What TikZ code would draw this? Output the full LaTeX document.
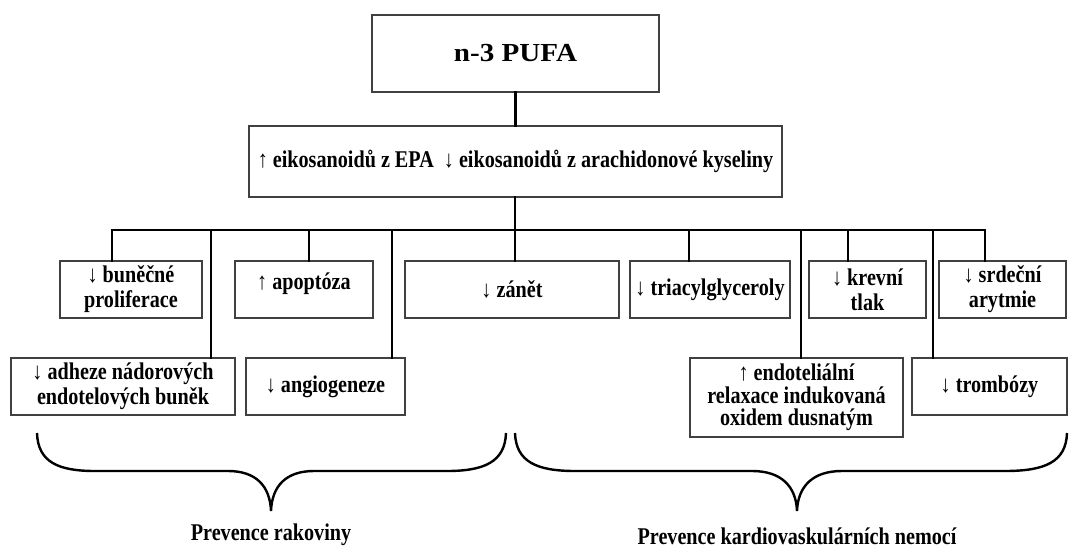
\documentclass[tikz,border=0pt]{standalone}
\usepackage{fontspec}
\setmainfont{Liberation Serif}[FakeStretch=0.84]
\newfontfamily\titlefont{Liberation Serif}[FakeStretch=1.12]
\begin{document}
\begin{tikzpicture}[x=1pt,y=-1pt,
  box/.style={draw=black!75, line width=1.4pt, rectangle, inner sep=0pt, align=center,
    font=\fontsize{24}{25}\selectfont\bfseries},
  conn/.style={line width=2.6pt, black, line cap=rect},
  brace/.style={line width=2.4pt, black},
  lab/.style={font=\fontsize{24}{25}\selectfont\bfseries, inner sep=0pt}]
\useasboundingbox (0,0) rectangle (1069,549);
% boxes
\node[box, minimum width=287pt, minimum height=77pt, font=\titlefont\fontsize{26}{30}\selectfont\bfseries] (top) at (515.5,53.5) {n-3 PUFA};
\node[box, minimum width=533pt, minimum height=71pt] (eik) at (515.5,161.5) {↑ eikosanoidů z EPA\ \ ↓ eikosanoidů z arachidonové kyseliny};
\node[box, minimum width=142pt, minimum height=57pt] (bun) at (131,289.5) {↓ buněčné\\proliferace};
\node[box, minimum width=138pt, minimum height=57pt] (apo) at (304,289.5) {↑ apoptóza\\[-8pt]\mbox{}};
\node[box, minimum width=214pt, minimum height=57pt] (zan) at (512,289.5) {↓ zánět};
\node[box, minimum width=160pt, minimum height=57pt] (tri) at (710,289.5) {↓ triacylglyceroly};
\node[box, minimum width=117pt, minimum height=57pt] (kre) at (867.5,289.5) {↓ krevní\\tlak};
\node[box, minimum width=127pt, minimum height=57pt] (srd) at (1002.5,289.5) {↓ srdeční\\arytmie};
\node[box, minimum width=224pt, minimum height=57pt] (adh) at (123,386.5) {↓ adheze nádorových\\endotelových buněk};
\node[box, minimum width=159pt, minimum height=57pt] (ang) at (325.5,386.5) {↓ angiogeneze};
\node[box, minimum width=213pt, minimum height=79pt] (end) at (796.5,397.5) {↑ endoteliální\\[-2.5pt]relaxace indukovaná\\[-2.5pt]oxidem dusnatým};
\node[box, minimum width=155pt, minimum height=57pt] (tro) at (989.5,386.5) {↓ trombózy};
% bus coordinates
\coordinate (bus) at (515,230);
\coordinate (d1) at (112,230);
\coordinate (d2) at (211,230);
\coordinate (d3) at (309,230);
\coordinate (d4) at (392,230);
\coordinate (d5) at (515,230);
\coordinate (d6) at (689,230);
\coordinate (d7) at (801,230);
\coordinate (d8) at (848,230);
\coordinate (d9) at (933,230);
\coordinate (d10) at (985,230);
% connectors
\draw[conn] (top.south) -- (top.south |- eik.north);
\draw[conn] (eik.south -| bus) -- (bus);
\draw[conn] (d1) -- (d10);
\foreach \d/\n in {d1/bun, d2/adh, d3/apo, d4/ang, d5/zan, d6/tri, d7/end, d8/kre, d9/tro, d10/srd}
  \draw[conn] (\d) -- (\d |- \n.north);
% braces
\coordinate (tipL) at (271,511);
\coordinate (tipR) at (797,511);
\draw[brace] (37,433) .. controls (38,462) and (58,471) .. (95,471) -- (228,471)
  .. controls (256,471) and (270,486) .. (tipL)
  .. controls (272,486) and (286,471) .. (314,471) -- (447,471)
  .. controls (484,471) and (505,462) .. (506,433);
\draw[brace] (515,433) .. controls (516,462) and (537,471) .. (575,471) -- (752,471)
  .. controls (781,471) and (796,486) .. (tipR)
  .. controls (798,486) and (813,471) .. (842,471) -- (1005,471)
  .. controls (1045,471) and (1066,462) .. (1067,433);
\node[lab] (pr) at (271,535) {Prevence rakoviny};
\node[lab] (pk) at (797,536) {Prevence kardiovaskulárních nemocí};
\end{tikzpicture}
\end{document}
